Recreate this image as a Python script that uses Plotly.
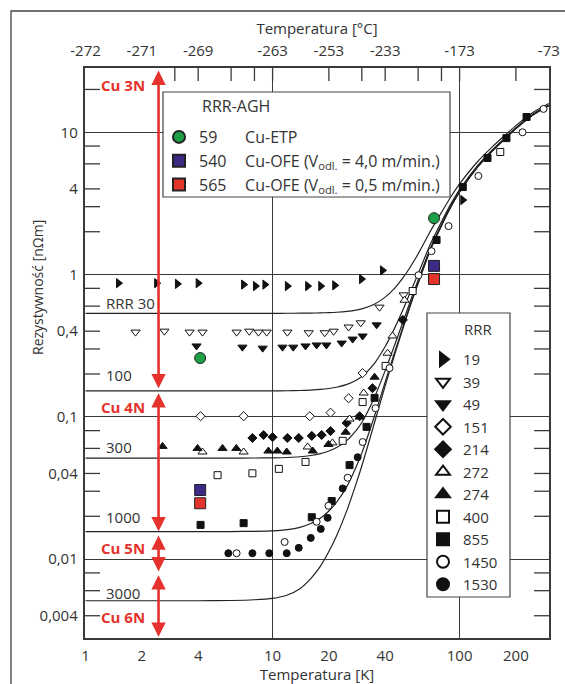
import math
import plotly.graph_objects as go

# ---------------- data ----------------
# theoretical curves: residual resistivity (plateau) per RRR and ideal (phonon) part
curve_rrr = [30, 100, 300, 1000, 3000]
curve_rho0 = [0.534, 0.152, 0.0513, 0.0156, 0.0051]
theory_T = [1, 4, 6, 8, 10, 12, 14, 16, 18, 20, 22, 25, 28, 30, 35, 40, 45, 50, 55, 60,
            70, 80, 90, 100, 125, 150, 175, 200, 250, 300]
theory_rho_ideal = [0, 0, 0.00002, 0.00008, 0.0002, 0.0005, 0.0011, 0.0022, 0.0038, 0.0062,
                    0.0095, 0.017, 0.029, 0.040, 0.085, 0.16, 0.27, 0.42, 0.62, 0.86,
                    1.5, 2.2, 3.0, 3.8, 5.7, 7.4, 9.0, 10.6, 13.4, 15.4]

rrr19_T = [1.5, 2.4, 3.1, 4.0, 7.0, 8.1, 9.1, 12.0, 15.4, 18.1, 21.5, 29.9, 38.7, 104]
rrr19_rho = [0.87, 0.87, 0.86, 0.87, 0.85, 0.83, 0.85, 0.83, 0.83, 0.83, 0.84, 0.93, 1.07, 3.34]

rrr39_T = [1.85, 2.64, 3.6, 4.22, 6.42, 7.5, 8.4, 9.3, 12.0, 15.6, 19.0, 21.2, 25.5, 29.6, 37.3, 50.2]
rrr39_rho = [0.394, 0.40, 0.394, 0.394, 0.394, 0.40, 0.394, 0.394, 0.394, 0.39, 0.39, 0.40,
             0.428, 0.458, 0.59, 0.72]

rrr49_T = [3.92, 6.9, 8.85, 11.3, 12.9, 15.0, 17.2, 19.4, 23.4, 26.8, 30.3, 36.0]
rrr49_rho = [0.315, 0.309, 0.304, 0.309, 0.309, 0.315, 0.32, 0.32, 0.33, 0.352, 0.37, 0.443]

rrr151_T = [4.12, 7.0, 15.8, 20.4, 25.5, 30.3]
rrr151_rho = [0.101, 0.101, 0.101, 0.107, 0.135, 0.203]

rrr214_T = [7.8, 8.95, 10.0, 12.0, 13.8, 16.2, 18.3, 20.4, 24.9, 29.2, 34.2, 49.7]
rrr214_rho = [0.071, 0.0745, 0.072, 0.071, 0.071, 0.0735, 0.0745, 0.0794, 0.0905, 0.101, 0.159, 0.48]

rrr272_T = [4.22, 7.0, 15.4, 20.9, 25.8, 30.7, 41.2, 43.8, 50.8]
rrr272_rho = [0.0566, 0.0566, 0.0614, 0.0656, 0.0965, 0.147, 0.28, 0.37, 0.66]

rrr274_T = [2.58, 3.97, 5.4, 6.4, 9.5, 10.6, 11.9, 16.4, 19.9, 24.6, 29.2, 35.1]
rrr274_rho = [0.062, 0.060, 0.060, 0.060, 0.0575, 0.0575, 0.0566, 0.0575, 0.064, 0.078, 0.0996, 0.19]

rrr400_T = [5.08, 7.8, 10.8, 15.0, 23.7, 30.3, 40.2, 56.1, 165]
rrr400_rho = [0.0389, 0.0401, 0.0431, 0.0482, 0.0678, 0.127, 0.228, 0.766, 7.27]

rrr855_T = [4.12, 7.0, 16.2, 20.7, 25.8, 31.8, 35.1, 75.3, 104, 141, 178, 228]
rrr855_rho = [0.0174, 0.0179, 0.0197, 0.0256, 0.0458, 0.085, 0.136, 1.75, 4.12, 6.6, 9.1, 12.8]

rrr1450_T = [6.42, 11.6, 17.2, 19.9, 25.2, 30.3, 35.5, 42.2, 60.3, 70.8, 87.3, 126, 217, 281]
rrr1450_rho = [0.0110, 0.0132, 0.0183, 0.0237, 0.0373, 0.0665, 0.115, 0.22, 0.99, 1.46, 2.19,
               4.93, 10.0, 14.6]

rrr1530_T = [5.8, 7.8, 9.6, 11.9, 13.8, 16.0, 18.1, 19.7, 23.7, 28.5]
rrr1530_rho = [0.0110, 0.0110, 0.0110, 0.0110, 0.0120, 0.0141, 0.0163, 0.0195, 0.0314, 0.052]

agh_T = [4.1, 73]
agh59_rho = [0.259, 2.49]
agh540_rho = [0.0306, 1.15]
agh565_rho = [0.0247, 0.93]

x_tick_vals = [1, 2, 4, 10, 20, 40, 100, 200]
x_tick_text = ["1", "2", "4", "10", "20", "40", "100", "200"]
top_tick_vals = [1, 2, 4, 10, 20, 40, 100, 300]
top_tick_text = ["-272", "-271", "-269", "-263", "-253", "-233", "-173", "-73"]
top_mark_vals = [3, 4, 6, 8, 10, 20, 30, 40, 60, 80, 100, 200]
y_label_vals = [0.004, 0.01, 0.04, 0.1, 0.4, 1, 4, 10]
y_label_text = ["0,004", "0,01", "0,04", "0,1", "0,4", "1", "4", "10"]
y_mark_vals = [0.004, 0.006, 0.008, 0.02, 0.03, 0.04, 0.06, 0.08, 0.2, 0.3, 0.4,
               0.6, 0.8, 2, 3, 4, 6, 8, 20]
grid_x = [10, 100]
grid_y = [0.01, 0.1, 1, 10]

# purity classes: (label, arrow top, arrow bottom, label y)
purity = [("Cu 3N", 27.8, 0.159, 21.5),
          ("Cu 4N", 0.150, 0.0157, 0.117),
          ("Cu 5N", 0.0150, 0.0082, 0.0119),
          ("Cu 6N", 0.0079, 0.00285, 0.0039)]
rrr_labels = [("RRR 30", 0.63), ("100", 0.197), ("300", 0.0614), ("1000", 0.0198), ("3000", 0.0058)]

# ---------------- styling ----------------
FONT = "Open Sans"
INK = "#333333"
AX = "#3a3a3a"
RED = "#e5322d"
W, H = 565, 684
L, R, T, B = 85, 16, 68, 46
PW, PH = W - L - R, H - T - B
xr = [-0.003, 2.478]
yr = [math.log10(0.00279), math.log10(28.3)]


def px(x):
    return (x - L) / PW


def py(y):
    return (H - B - y) / PH


def xfrac(v):
    return (math.log10(v) - xr[0]) / (xr[1] - xr[0])


def yfrac(v):
    return (math.log10(v) - yr[0]) / (yr[1] - yr[0])


fig = go.Figure()

for rrr, r0 in zip(curve_rrr, curve_rho0):
    fig.add_trace(go.Scatter(
        x=theory_T, y=[r0 + ri for ri in theory_rho_ideal], mode="lines",
        line=dict(color="#222222", width=1.2, shape="spline", smoothing=0.6),
        showlegend=False, hoverinfo="skip"))

series = [
    ("19", rrr19_T, rrr19_rho, "triangle-right", "#111111", 8),
    ("39", rrr39_T, rrr39_rho, "triangle-down", "white", 8),
    ("49", rrr49_T, rrr49_rho, "triangle-down", "#111111", 8),
    ("151", rrr151_T, rrr151_rho, "diamond", "white", 7),
    ("214", rrr214_T, rrr214_rho, "diamond", "#111111", 7),
    ("272", rrr272_T, rrr272_rho, "triangle-up", "white", 8),
    ("274", rrr274_T, rrr274_rho, "triangle-up", "#111111", 8),
    ("400", rrr400_T, rrr400_rho, "square", "white", 7),
    ("855", rrr855_T, rrr855_rho, "square", "#111111", 7),
    ("1450", rrr1450_T, rrr1450_rho, "circle", "white", 7),
    ("1530", rrr1530_T, rrr1530_rho, "circle", "#111111", 7),
]
for name, xs, ys, sym, fill, size in series:
    fig.add_trace(go.Scatter(
        x=xs, y=ys, mode="markers", name=name, legend="legend2",
        marker=dict(symbol=sym, color=fill, size=size, line=dict(color="#111111", width=1)),
        cliponaxis=False))

agh = [
    ("59\u2007\u2003\u2009Cu-ETP", agh59_rho, "circle", "#1f9e48"),
    ("540\u2003\u2009Cu-OFE (V<sub>odl.</sub> = 4,0 m/min.)", agh540_rho, "square", "#3d2a84"),
    ("565\u2003\u2009Cu-OFE (V<sub>odl.</sub> = 0,5 m/min.)", agh565_rho, "square", "#e3342c"),
]
for name, ys, sym, col in agh:
    fig.add_trace(go.Scatter(
        x=agh_T, y=ys, mode="markers", name=name, legend="legend",
        marker=dict(symbol=sym, color=col, size=11, line=dict(color="#222222", width=1))))

# helper traces so the overlay axes exist
for xa, ya in [("x2", "y"), ("x4", "y"), ("x", "y3")]:
    fig.add_trace(go.Scatter(x=[], y=[], xaxis=xa, yaxis=ya, showlegend=False, hoverinfo="skip"))

annotations = []
for text, top, bot, ly in purity:
    annotations.append(dict(
        x=math.log10(2.456), y=math.log10(bot), ax=math.log10(2.456), ay=math.log10(top),
        xref="x", yref="y", axref="x", ayref="y", text="", showarrow=True,
        arrowhead=2, startarrowhead=2, arrowside="end+start", arrowwidth=2.6,
        arrowsize=1.1, startarrowsize=1.1, arrowcolor=RED, standoff=0, startstandoff=0))
    annotations.append(dict(
        x=math.log10(1.58), y=math.log10(ly), xref="x", yref="y", text="<b>%s</b>" % text,
        showarrow=False, xanchor="center", yanchor="middle",
        font=dict(family=FONT, size=15, color=RED)))
for text, ly in rrr_labels:
    annotations.append(dict(
        x=math.log10(1.25), y=math.log10(ly), xref="x", yref="y", text=text,
        showarrow=False, xanchor="left", yanchor="middle",
        font=dict(family=FONT, size=15, color=INK)))
# legend titles and y-axis title
annotations.append(dict(x=px(200), y=py(106), xref="paper", yref="paper", text="RRR-AGH",
                        showarrow=False, xanchor="left", yanchor="middle",
                        font=dict(family=FONT, size=16, color=INK)))
annotations.append(dict(x=px(478), y=py(329), xref="paper", yref="paper", text="RRR",
                        showarrow=False, xanchor="center", yanchor="middle",
                        font=dict(family=FONT, size=15, color=INK)))
annotations.append(dict(x=px(37), y=py(288), xref="paper", yref="paper",
                        text="Rezystywność [nΩm]", textangle=-90, showarrow=False,
                        xanchor="center", yanchor="middle",
                        font=dict(family=FONT, size=14, color=INK)))

# tick marks (inside) on left, right and top borders
tick_shapes = []
for v in y_mark_vals:
    f = yfrac(v)
    tick_shapes.append(dict(type="line", xref="paper", yref="paper", x0=0, x1=15 / PW,
                            y0=f, y1=f, line=dict(color=AX, width=1.3)))
    tick_shapes.append(dict(type="line", xref="paper", yref="paper", x0=1 - 15 / PW, x1=1,
                            y0=f, y1=f, line=dict(color=AX, width=1.3)))
for v in top_mark_vals:
    f = xfrac(v)
    tick_shapes.append(dict(type="line", xref="paper", yref="paper", x0=f, x1=f,
                            y0=1 - 13 / PH, y1=1, line=dict(color=AX, width=1.3)))

hidden = dict(type="log", showticklabels=False, showline=False, zeroline=False,
              automargin=False)

fig.update_layout(
    width=W, height=H,
    margin=dict(l=L, r=R, t=T, b=B, autoexpand=False),
    paper_bgcolor="white", plot_bgcolor="white",
    font=dict(family=FONT, size=15, color=INK),
    xaxis=dict(
        type="log", range=xr, tickmode="array", tickvals=x_tick_vals, ticktext=x_tick_text,
        ticks="outside", ticklen=3, tickcolor="rgba(0,0,0,0)", automargin=False,
        showgrid=False, zeroline=False, showline=True, mirror=True,
        linecolor=AX, linewidth=1.5,
        title=dict(text="Temperatura [K]", font=dict(size=15), standoff=12)),
    xaxis2=dict(
        type="log", range=xr, overlaying="x", side="top", anchor="y", automargin=False,
        tickmode="array", tickvals=top_tick_vals, ticktext=top_tick_text,
        ticks="outside", ticklen=5, tickcolor="rgba(0,0,0,0)",
        showgrid=False, zeroline=False, showline=False,
        title=dict(text="Temperatura [°C]", font=dict(size=15), standoff=1)),
    xaxis4=dict(
        hidden, range=xr, overlaying="x", side="bottom", anchor="y",
        tickmode="array", tickvals=grid_x, ticks="", showgrid=True,
        gridcolor=AX, gridwidth=1.3),
    yaxis=dict(
        type="log", range=yr, tickmode="array", tickvals=y_label_vals,
        ticktext=[t + "\u2009" for t in y_label_text], ticks="", automargin=False,
        showline=True, mirror=True, linecolor=AX, linewidth=1.5,
        showgrid=False, zeroline=False),
    yaxis3=dict(
        hidden, range=yr, overlaying="y", side="left", anchor="x",
        tickmode="array", tickvals=grid_y, ticks="", showgrid=True,
        gridcolor=AX, gridwidth=1.3),
    legend=dict(
        x=px(159), y=py(120), xanchor="left", yanchor="top",
        bgcolor="rgba(0,0,0,0)", borderwidth=0,
        font=dict(family=FONT, size=16, color=INK), itemsizing="constant"),
    legend2=dict(
        x=px(423), y=py(343), xanchor="left", yanchor="top",
        bgcolor="rgba(0,0,0,0)", borderwidth=0,
        font=dict(family=FONT, size=15, color=INK), itemsizing="constant"),
    annotations=annotations,
    shapes=[
        dict(type="rect", xref="paper", yref="paper", x0=px(11), x1=px(580),
             y0=py(700), y1=py(11), line=dict(color="#444444", width=1.3)),
    ] + tick_shapes + [
        dict(type="rect", xref="paper", yref="paper", x0=px(163), x1=px(450),
             y0=py(197), y1=py(92), fillcolor="white", layer="above",
             line=dict(color="#444444", width=1.2)),
        dict(type="rect", xref="paper", yref="paper", x0=px(427), x1=px(510),
             y0=py(597), y1=py(313), fillcolor="white", layer="above",
             line=dict(color="#444444", width=1.2)),
    ],
)

fig.write_html("out.html")
